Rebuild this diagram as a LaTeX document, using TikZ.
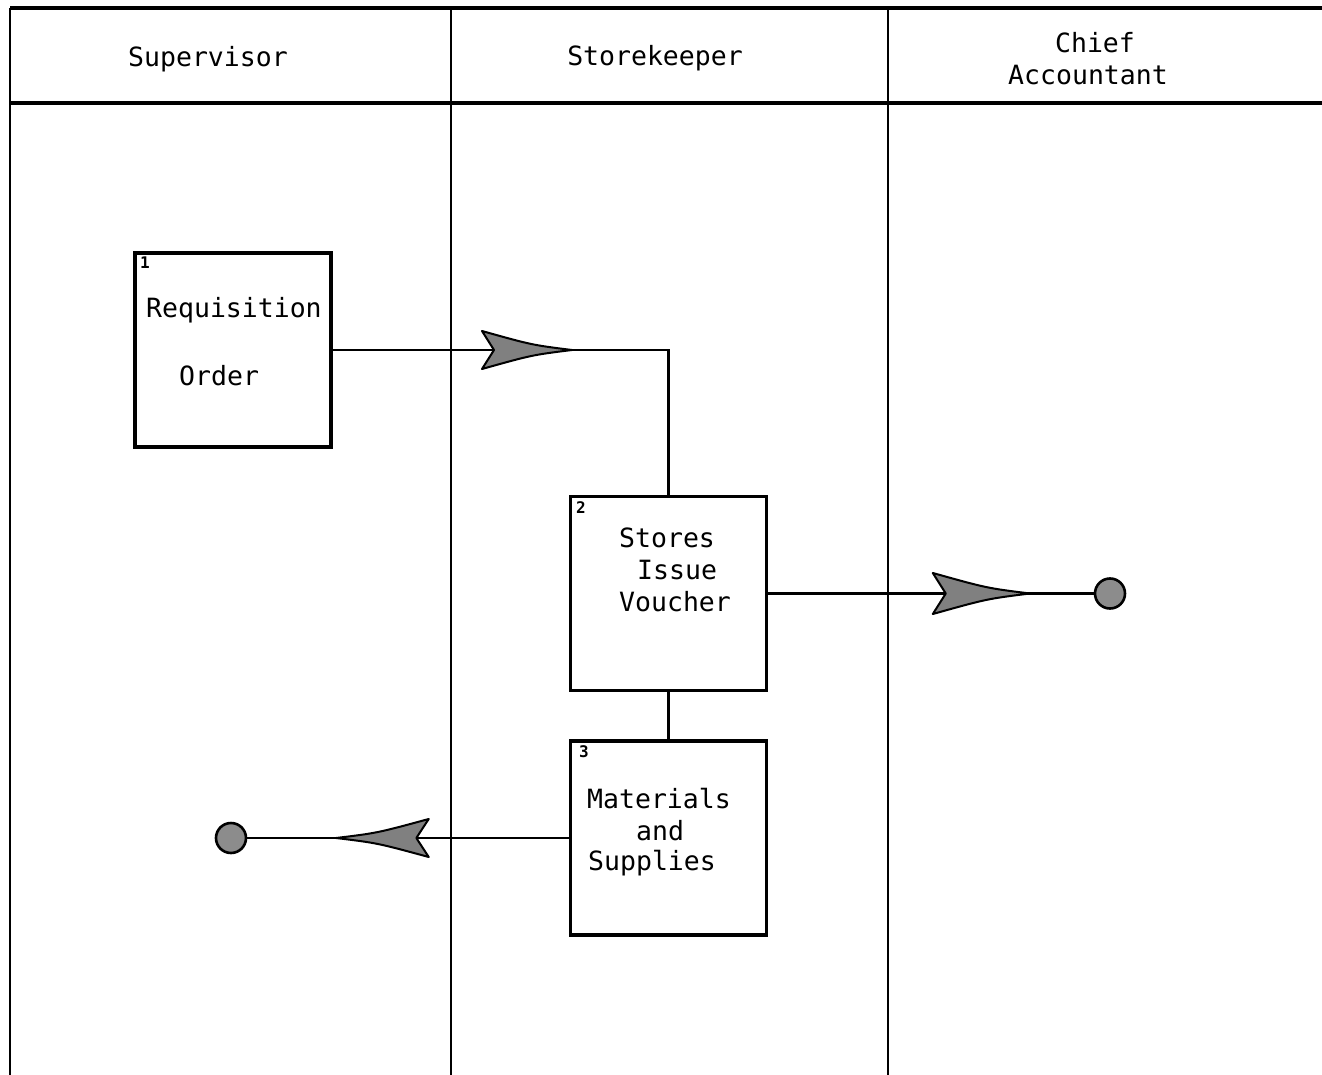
\documentclass[tikz,border=0pt]{standalone}
\usepackage{fontspec}
\newfontfamily\mono{DejaVu Sans Mono}
\begin{document}
\begin{tikzpicture}[x=1pt,y=-1pt,
  laneline/.style={line width=2.6pt},
  frameline/.style={line width=4pt},
  box/.style={draw, line width=3.2pt, minimum width=196pt, minimum height=194pt, inner sep=0pt},
  lbl/.style={font=\mono\fontsize{26.5}{30}\selectfont, inner sep=0pt, anchor=west},
  hdr/.style={font=\mono\fontsize{26.5}{32}\selectfont, inner sep=0pt, align=center},
  num/.style={font=\mono\bfseries\fontsize{16}{18}\selectfont, inner sep=0pt, anchor=north west},
  conn/.style={line width=2.6pt},
  endpt/.style={circle, draw, line width=2.6pt, fill=black!45, minimum size=30pt, inner sep=0pt},
  flagfill/.style={draw, line width=2pt, fill=black!50, line join=round},
  flagpic/.pic={\path[flagfill]
      (0,0) .. controls (-40,-5) .. (-90,-19) -- (-78,0) -- (-90,19) .. controls (-40,5) .. (0,0) -- cycle;}
]
\useasboundingbox (0,0) rectangle (1322,1075);

% frame and lanes
\coordinate (tl) at (10,8);
\coordinate (tr) at (1322,8);
\coordinate (hl) at (10,103);
\coordinate (hr) at (1322,103);
\coordinate (bl) at (10,1075);
\coordinate (d1t) at (451,8);
\coordinate (d1b) at (451,1075);
\coordinate (d2t) at (888,8);
\coordinate (d2b) at (888,1075);
\draw[frameline] (tl) -- (tr);
\draw[frameline] (hl) -- (hr);
\draw[laneline] (tl) -- (bl);
\draw[laneline] (d1t) -- (d1b);
\draw[laneline] (d2t) -- (d2b);

% headers
\node[hdr] (h1) at (208,59) {Supervisor};
\node[hdr] (h2) at (655,58) {Storekeeper};
\node[hdr] (h3) at (1088,59) {\hspace*{14pt}Chief\\Accountant};

% boxes
\node[box] (req) at (233,350) {};
\node[box] (siv) at (668.5,593.5) {};
\node[box] (mat) at (668.5,838) {};

\node[num] (n1) at (140,257) {1};
\node[num] (n2) at (576,501) {2};
\node[num] (n3) at (579,745) {3};

\node[lbl] (t1a) at (146,310) {Requisition};
\node[lbl] (t1b) at (179,376) {Order};
\node[lbl] (t2a) at (619,538) {Stores};
\node[lbl] (t2b) at (637,570) {Issue};
\node[lbl] (t2c) at (619,602) {Voucher};
\node[lbl] (t3a) at (587,799) {Materials};
\node[lbl] (t3b) at (636,831) {and};
\node[lbl] (t3c) at (588,863) {Supplies};

% end points
\node[endpt] (e1) at (1110,593.5) {};
\node[endpt] (e2) at (231,838) {};

% connectors
\draw[conn] (req.east) -| (siv.north);
\draw[conn] (siv.east) -- (e1.west);
\draw[conn] (siv.south) -- (mat.north);
\draw[conn] (mat.west) -- (e2.east);

% flag arrowheads
\pic at (572,350) {flagpic};
\pic[scale=1.08] at (1030,593.5) {flagpic};
\pic[xscale=-1.03] at (336,838) {flagpic};
\end{tikzpicture}
\end{document}
